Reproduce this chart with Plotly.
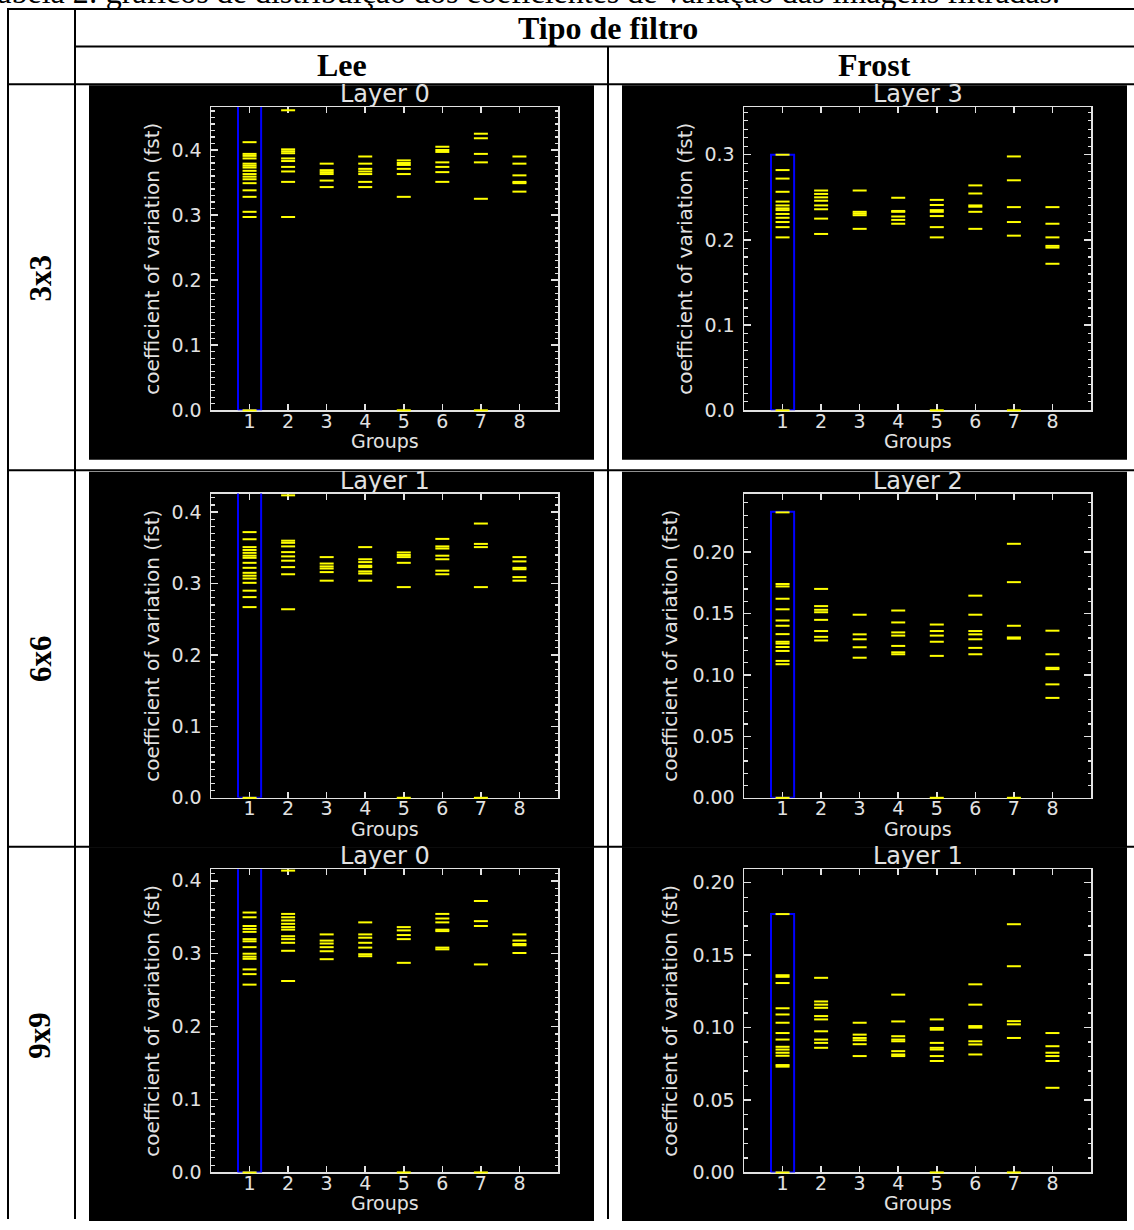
import plotly.graph_objects as go

W, H = 1134, 1230

# ---------------- data ----------------
groups = [1, 2, 3, 4, 5, 6, 7, 8]

lee_3x3 = [
    [0.412, 0.394, 0.391, 0.387, 0.379, 0.376, 0.373, 0.368, 0.363, 0.359, 0.355, 0.349, 0.338, 0.328, 0.305, 0.297, 0.0],
    [0.461, 0.401, 0.398, 0.395, 0.387, 0.383, 0.374, 0.367, 0.351, 0.297],
    [0.379, 0.369, 0.366, 0.363, 0.353, 0.343],
    [0.390, 0.379, 0.371, 0.367, 0.363, 0.351, 0.343],
    [0.384, 0.380, 0.377, 0.371, 0.363, 0.328, 0.0],
    [0.405, 0.400, 0.397, 0.381, 0.374, 0.366, 0.351],
    [0.425, 0.418, 0.394, 0.381, 0.325, 0.0],
    [0.390, 0.379, 0.361, 0.351, 0.349, 0.336],
]
frost_3x3 = [
    [0.300, 0.282, 0.272, 0.2565, 0.245, 0.2405, 0.237, 0.235, 0.2305, 0.226, 0.221, 0.215, 0.203, 0.0],
    [0.258, 0.254, 0.250, 0.246, 0.2405, 0.236, 0.225, 0.207],
    [0.258, 0.233, 0.231, 0.229, 0.213],
    [0.2495, 0.234, 0.233, 0.2275, 0.2235, 0.219],
    [0.247, 0.241, 0.235, 0.233, 0.228, 0.215, 0.203, 0.0],
    [0.264, 0.2545, 0.2405, 0.239, 0.233, 0.213],
    [0.298, 0.270, 0.2385, 0.221, 0.205, 0.0],
    [0.2385, 0.219, 0.203, 0.193, 0.191, 0.172],
]
lee_6x6 = [
    [0.372, 0.362, 0.351, 0.347, 0.343, 0.339, 0.336, 0.329, 0.322, 0.315, 0.311, 0.307, 0.301, 0.290, 0.281, 0.267, 0.0],
    [0.4235, 0.360, 0.357, 0.352, 0.344, 0.338, 0.332, 0.323, 0.313, 0.264],
    [0.337, 0.328, 0.324, 0.321, 0.316, 0.304],
    [0.351, 0.334, 0.330, 0.325, 0.323, 0.317, 0.314, 0.304],
    [0.3435, 0.340, 0.337, 0.329, 0.295, 0.0],
    [0.3625, 0.352, 0.349, 0.339, 0.334, 0.318, 0.313],
    [0.384, 0.3555, 0.351, 0.295, 0.0],
    [0.337, 0.331, 0.322, 0.320, 0.309, 0.304],
]
frost_6x6 = [
    [0.2323, 0.174, 0.172, 0.162, 0.1534, 0.1443, 0.140, 0.1332, 0.127, 0.1255, 0.1227, 0.1195, 0.1114, 0.1087, 0.0],
    [0.170, 0.156, 0.153, 0.151, 0.1448, 0.1357, 0.131, 0.128],
    [0.149, 0.133, 0.129, 0.1225, 0.114],
    [0.1524, 0.1427, 0.1346, 0.132, 0.1236, 0.1184, 0.1168],
    [0.141, 0.1357, 0.132, 0.127, 0.1155, 0.0],
    [0.1645, 0.149, 0.1357, 0.133, 0.129, 0.122, 0.1168],
    [0.2067, 0.1755, 0.140, 0.1305, 0.1295, 0.0],
    [0.136, 0.1168, 0.1058, 0.1047, 0.0923, 0.0813],
]
lee_9x9 = [
    [0.3565, 0.350, 0.338, 0.334, 0.330, 0.320, 0.317, 0.309, 0.300, 0.296, 0.293, 0.2785, 0.272, 0.2576, 0.0],
    [0.414, 0.3546, 0.350, 0.3456, 0.341, 0.3365, 0.333, 0.324, 0.320, 0.315, 0.304, 0.2626],
    [0.3265, 0.318, 0.314, 0.309, 0.3034, 0.2925],
    [0.343, 0.3265, 0.322, 0.315, 0.3084, 0.2993, 0.2966],
    [0.3365, 0.332, 0.3256, 0.320, 0.2875, 0.0],
    [0.3546, 0.3483, 0.343, 0.333, 0.331, 0.3084, 0.306],
    [0.3723, 0.3447, 0.338, 0.2853, 0.0],
    [0.3265, 0.318, 0.3134, 0.3116, 0.301],
]
frost_9x9 = [
    [0.1783, 0.1361, 0.135, 0.1307, 0.1133, 0.109, 0.1033, 0.0962, 0.0917, 0.0867, 0.0848, 0.0826, 0.0805, 0.0741, 0.073, 0.0],
    [0.1343, 0.118, 0.1158, 0.1136, 0.1079, 0.1056, 0.0974, 0.0917, 0.0894, 0.086],
    [0.1033, 0.0951, 0.0928, 0.0912, 0.0885, 0.0803],
    [0.1227, 0.1042, 0.094, 0.0917, 0.0905, 0.0837, 0.0814, 0.0803],
    [0.1056, 0.0997, 0.0985, 0.0894, 0.086, 0.0848, 0.0803, 0.0769, 0.0],
    [0.1298, 0.1158, 0.101, 0.0999, 0.0905, 0.0883, 0.0814],
    [0.1713, 0.1423, 0.1044, 0.1022, 0.0928, 0.0],
    [0.0962, 0.0871, 0.0826, 0.0803, 0.0769, 0.0584],
]

# top of the highlighted (blue) box around group 1 in each panel
selected_box_top = [0.48, 0.300, 0.44, 0.2328, 0.43, 0.1783]

panel_data = [lee_3x3, frost_3x3, lee_6x6, frost_6x6, lee_9x9, frost_9x9]
panel_titles = ["Layer 0", "Layer 3", "Layer 1", "Layer 2", "Layer 0", "Layer 1"]
y_ranges = [[0, 0.466], [0, 0.356], [0, 0.426], [0, 0.2476], [0, 0.416], [0, 0.2093]]
y_dticks = [0.1, 0.1, 0.1, 0.05, 0.1, 0.05]
y_formats = [".1f", ".1f", ".1f", ".2f", ".1f", ".2f"]

caption = "Tabela 2: gráficos de distribuição dos coeficientes de variação das imagens filtradas."
group_header = "Tipo de filtro"
col_headers = ["Lee", "Frost"]
row_labels = ["3x3", "6x6", "9x9"]
x_title = "Groups"
y_title = "coefficient of variation (fst)"

# ---------------- layout geometry (pixels) ----------------
plot_x = [(211, 558), (744, 1091)]
plot_y = [(108, 414), (498, 805), (877, 1183)]
bg_x = [(89, 594), (622, 1127)]
bg_y = [(86, 464), (476, 855), (855, 1232)]


def px(x):
    return x / W


def py(y):
    return 1 - y / H


FG = "#e2e2e2"
TICKFONT = dict(family="DejaVu Sans", size=19, color=FG)
SERIF = "Liberation Serif"

fig = go.Figure()
shapes = []
annotations = []
layout_axes = {}

# black picture backgrounds
for r in range(3):
    for c in range(2):
        shapes.append(dict(type="rect", xref="paper", yref="paper",
                           x0=px(bg_x[c][0]), x1=px(bg_x[c][1]),
                           y0=py(bg_y[r][1]), y1=py(bg_y[r][0]),
                           fillcolor="black", line=dict(width=0), layer="below"))


# table lines
def hline(y, x0, x1):
    shapes.append(dict(type="line", xref="paper", yref="paper",
                       x0=px(x0), x1=px(x1), y0=py(y), y1=py(y),
                       line=dict(color="black", width=2), layer="below"))


def vline(x, y0, y1):
    shapes.append(dict(type="line", xref="paper", yref="paper",
                       x0=px(x), x1=px(x), y0=py(y0), y1=py(y1),
                       line=dict(color="black", width=2), layer="below"))


hline(9, 7, 1134)
hline(47, 75, 1134)
hline(85, 7, 1134)
hline(474.5, 7, 1134)
hline(854.5, 7, 1134)
vline(8, 9, 1230)
vline(75, 9, 1230)
vline(608, 47, 1230)

for i, data in enumerate(panel_data):
    r, c = divmod(i, 2)
    n = "" if i == 0 else str(i + 1)
    xa, ya = "x" + n, "y" + n
    x0p, x1p = plot_x[c]
    y0p, y1p = plot_y[r]

    xs, ys = [], []
    for g, vals in zip(groups, data):
        xs += [g] * len(vals)
        ys += vals

    top = selected_box_top[i]
    g1 = groups[0]
    fig.add_trace(go.Scatter(
        x=[g1 - 0.3, g1 + 0.3, g1 + 0.3, g1 - 0.3, g1 - 0.3],
        y=[0, 0, top, top, 0], mode="lines",
        line=dict(color="#0000ff", width=2), showlegend=False,
        hoverinfo="skip", xaxis=xa, yaxis=ya))
    fig.add_trace(go.Scatter(
        x=xs, y=ys, mode="markers", cliponaxis=False,
        marker=dict(symbol="line-ew", size=10, color="#ffff00",
                    line=dict(width=2, color="#ffff00")),
        showlegend=False, xaxis=xa, yaxis=ya))

    layout_axes["xaxis" + n] = dict(
        domain=[px(x0p), px(x1p)], anchor=ya, range=[0, 9],
        tickmode="array", tickvals=groups, ticks="inside", ticklen=6,
        tickcolor=FG, tickwidth=1.5, showline=True, linecolor=FG, linewidth=1.5,
        mirror="ticks", showgrid=False, zeroline=False, tickfont=TICKFONT,
        ticklabelstandoff=-7, layer="below traces", fixedrange=True)
    layout_axes["yaxis" + n] = dict(
        domain=[py(y1p), py(y0p)], anchor=xa, range=y_ranges[i],
        tick0=0, dtick=y_dticks[i], tickformat=y_formats[i],
        ticks="inside", ticklen=7, tickcolor=FG, tickwidth=1.5,
        minor=dict(dtick=0.01, ticks="inside", ticklen=3.5, tickcolor=FG, tickwidth=1.2),
        showline=True, linecolor=FG, linewidth=1.5, mirror="ticks",
        showgrid=False, zeroline=False, tickfont=TICKFONT,
        ticklabelstandoff=4, layer="below traces", fixedrange=True)

    cx = px((x0p + x1p) / 2)
    annotations.append(dict(text=panel_titles[i], x=cx, y=py(y0p - 13),
                            xref="paper", yref="paper", showarrow=False,
                            xanchor="center", yanchor="middle",
                            font=dict(family="DejaVu Sans", size=24, color=FG)))
    annotations.append(dict(text=x_title, x=cx, y=py(y1p + 31),
                            xref="paper", yref="paper", showarrow=False,
                            xanchor="center", yanchor="middle",
                            font=dict(family="DejaVu Sans", size=19, color=FG)))
    off = 59 if y_formats[i] == ".1f" else 74
    annotations.append(dict(text=y_title, x=px(x0p - off), y=py((y0p + y1p) / 2),
                            xref="paper", yref="paper", showarrow=False,
                            textangle=-90, xanchor="center", yanchor="middle",
                            font=dict(family="DejaVu Sans", size=20, color=FG)))

# table texts
annotations.append(dict(text=caption, x=px(-22), y=py(-8), xref="paper", yref="paper",
                        showarrow=False, xanchor="left", yanchor="middle",
                        font=dict(family=SERIF, size=32, color="black")))
annotations.append(dict(text="<b>%s</b>" % group_header, x=px(608), y=py(28),
                        xref="paper", yref="paper", showarrow=False,
                        xanchor="center", yanchor="middle",
                        font=dict(family=SERIF, size=32, color="black")))
for c, (txt, xc) in enumerate(zip(col_headers, [341.5, 874])):
    annotations.append(dict(text="<b>%s</b>" % txt, x=px(xc), y=py(66),
                            xref="paper", yref="paper", showarrow=False,
                            xanchor="center", yanchor="middle",
                            font=dict(family=SERIF, size=32, color="black")))
for txt, yc in zip(row_labels, [281, 665, 1045]):
    annotations.append(dict(text="<b>%s</b>" % txt, x=px(40), y=py(yc),
                            xref="paper", yref="paper", showarrow=False,
                            textangle=-90, xanchor="center", yanchor="middle",
                            font=dict(family=SERIF, size=31, color="black")))

fig.update_layout(
    width=W, height=H, margin=dict(l=0, r=0, t=0, b=0),
    paper_bgcolor="white", plot_bgcolor="black",
    shapes=shapes, annotations=annotations, showlegend=False,
    **layout_axes)

fig.write_html(
    "out.html",
    config={"displayModeBar": False, "staticPlot": True},
    post_script="document.body.style.margin='0px';document.body.style.padding='0px';"
                "document.body.style.overflow='hidden';")
